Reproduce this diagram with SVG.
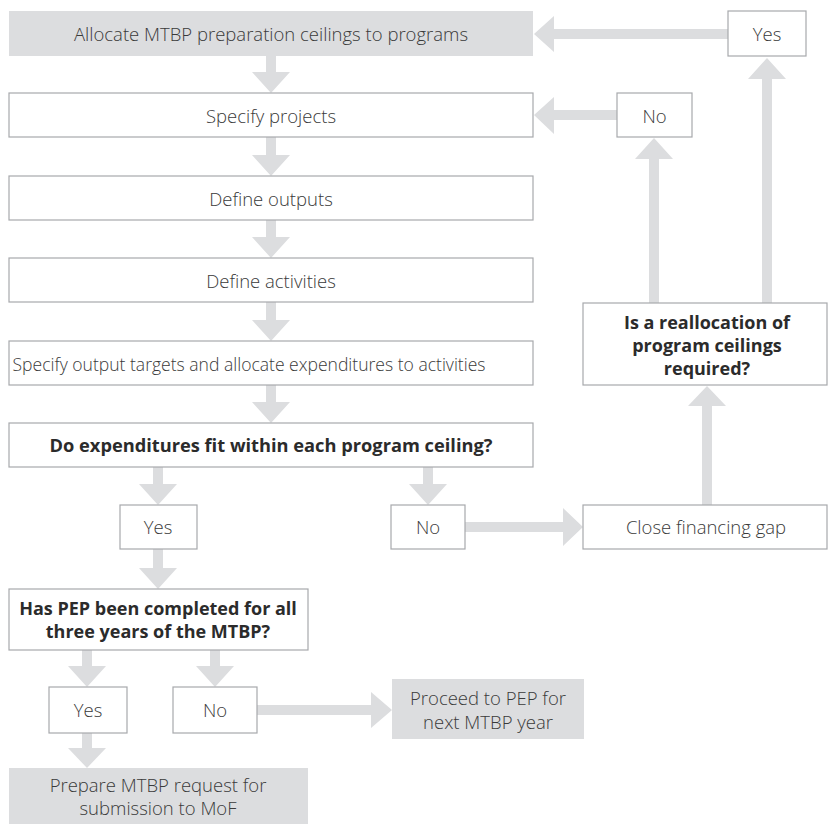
<svg xmlns="http://www.w3.org/2000/svg" width="828" height="824" viewBox="0 0 828 824">
<style>
.box{fill:#ffffff;stroke:#a7a9ac;stroke-width:1.2}
.gbox{fill:#dcdddf;stroke:none}
.t{font-family:"Open Sans","Liberation Sans",sans-serif;font-size:18.5px;font-weight:300;fill:#3a3a3a;text-anchor:middle}
.b{font-family:"Open Sans","Liberation Sans",sans-serif;font-size:18px;font-weight:700;fill:#2b2b2b;text-anchor:middle}
.arr{fill:#dcdddf;stroke:none}
</style>
<rect width="828" height="824" fill="#ffffff"/>
<g id="connectors">
<polygon class="arr" points="266,56 276,56 276,72 290,72 271,93 252,72 266,72"/>
<polygon class="arr" points="266,137 276,137 276,155 290,155 271,176 252,155 266,155"/>
<polygon class="arr" points="266,220 276,220 276,237 290,237 271,258 252,237 266,237"/>
<polygon class="arr" points="266,302 276,302 276,320 290,320 271,341 252,320 266,320"/>
<polygon class="arr" points="266,385 276,385 276,402 290,402 271,423 252,402 266,402"/>
<polygon class="arr" points="153,467 163,467 163,484 177,484 158,505 139,484 153,484"/>
<polygon class="arr" points="423,467 433,467 433,484 447,484 428,505 409,484 423,484"/>
<polygon class="arr" points="465,522 563,522 563,508 583,527 563,546 563,532 465,532"/>
<polygon class="arr" points="702,505 702,406 688,406 707,386 726,406 712,406 712,505"/>
<polygon class="arr" points="649,303 649,159 635,159 654,138 673,159 659,159 659,303"/>
<polygon class="arr" points="762,303 762,79 748,79 767,58 786,79 772,79 772,303"/>
<polygon class="arr" points="728,29 554,29 554,16 534,34 554,52 554,39 728,39"/>
<polygon class="arr" points="617,110 554,110 554,97 534,115 554,134 554,120 617,120"/>
<polygon class="arr" points="153,549 163,549 163,568 177,568 158,589 139,568 153,568"/>
<polygon class="arr" points="82,650 92,650 92,666 106,666 87,687 68,666 82,666"/>
<polygon class="arr" points="210,650 220,650 220,666 234,666 215,687 196,666 210,666"/>
<polygon class="arr" points="257,705 371,705 371,692 392,710 371,728 371,715 257,715"/>
<polygon class="arr" points="82,733 92,733 92,748 106,748 87,768 68,748 82,748"/>
</g>
<g id="allocate"><rect class="gbox" x="9" y="11" width="524" height="45"/><text class="t" x="271" y="40.5">Allocate MTBP preparation ceilings to programs</text></g>
<g id="specify-projects"><rect class="box" x="9" y="93" width="524" height="44"/><text class="t" x="271" y="123">Specify projects</text></g>
<g id="define-outputs"><rect class="box" x="9" y="176" width="524" height="44"/><text class="t" x="271" y="206">Define outputs</text></g>
<g id="define-activities"><rect class="box" x="9" y="258" width="524" height="44"/><text class="t" x="271" y="288">Define activities</text></g>
<g id="specify-targets"><rect class="box" x="9" y="341" width="524" height="44"/><text class="t" x="249" y="371" textLength="473" lengthAdjust="spacingAndGlyphs">Specify output targets and allocate expenditures to activities</text></g>
<g id="fit-ceiling"><rect class="box" x="9" y="423" width="524" height="44"/><text class="b" x="271" y="452" textLength="443" lengthAdjust="spacingAndGlyphs">Do expenditures fit within each program ceiling?</text></g>
<g id="yes1"><rect class="box" x="120" y="505" width="77" height="44"/><text class="t" x="158" y="534">Yes</text></g>
<g id="no1"><rect class="box" x="391" y="505" width="74" height="44"/><text class="t" x="428" y="534">No</text></g>
<g id="close-gap"><rect class="box" x="583" y="505" width="244" height="44"/><text class="t" x="706" y="534">Close financing gap</text></g>
<g id="reallocation"><rect class="box" x="583" y="303" width="244" height="82"/><text class="b" x="707" y="329">Is a reallocation of</text><text class="b" x="707" y="352">program ceilings</text><text class="b" x="707" y="375">required?</text></g>
<g id="no2"><rect class="box" x="617" y="93" width="75" height="44"/><text class="t" x="654.5" y="123">No</text></g>
<g id="yes2"><rect class="box" x="728" y="11" width="78" height="45"/><text class="t" x="767" y="40.5">Yes</text></g>
<g id="pep-complete"><rect class="box" x="9" y="589" width="299" height="61"/><text class="b" x="158" y="615">Has PEP been completed for all</text><text class="b" x="158" y="638">three years of the MTBP?</text></g>
<g id="yes3"><rect class="box" x="49" y="687" width="78" height="46"/><text class="t" x="88" y="717">Yes</text></g>
<g id="no3"><rect class="box" x="173" y="687" width="84" height="46"/><text class="t" x="215" y="717">No</text></g>
<g id="proceed"><rect class="gbox" x="392" y="679" width="192" height="60"/><text class="t" x="488" y="705">Proceed to PEP for</text><text class="t" x="488" y="729">next MTBP year</text></g>
<g id="prepare"><rect class="gbox" x="9" y="768" width="299" height="56"/><text class="t" x="158" y="792">Prepare MTBP request for</text><text class="t" x="158" y="815">submission to MoF</text></g>
</svg>
